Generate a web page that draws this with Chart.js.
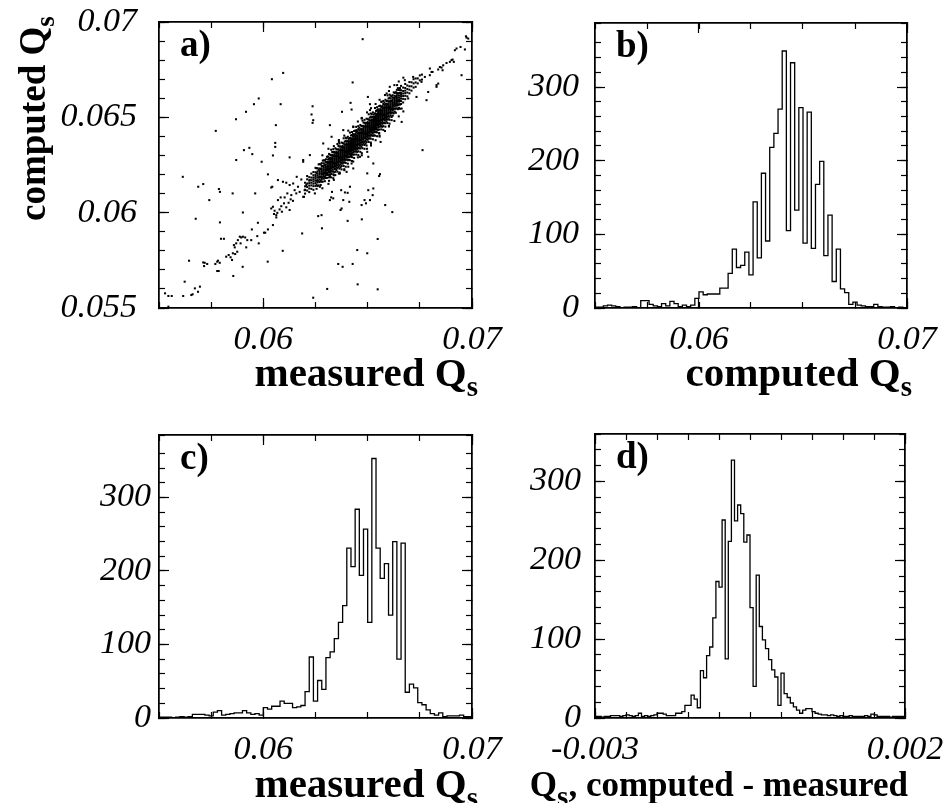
<!DOCTYPE html>
<html lang="en">
  <head>
    <meta charset="UTF-8" />
    <title>Qs computed vs measured</title>
    <script src="https://cdn.jsdelivr.net/npm/chart.js@4.4.1/dist/chart.umd.min.js"></script>
    <style>
      body { margin: 0; background: #fff; }
      #page { position: relative; width: 952px; height: 803px; overflow: hidden; background: #fff; }
      canvas { position: absolute; }
      .title {
        position: absolute;
        font: bold 41px "Liberation Serif", "Times New Roman", serif;
        line-height: 1;
        white-space: nowrap;
        color: #000;
      }
      .title span { font-size: 29px; position: relative; top: 10px; }
      .vtitle { font-size: 37px; transform: rotate(-90deg); transform-origin: 0 0; }
      .vtitle span { font-size: 27px; top: 9px; }
    </style>
  </head>
  <body>
    <div id="page">
      <canvas id="chartA" width="520" height="400" style="left:0;top:0"></canvas>
      <canvas id="chartB" width="472" height="400" style="left:480px;top:0"></canvas>
      <canvas id="chartC" width="520" height="403" style="left:0;top:400px"></canvas>
      <canvas id="chartD" width="472" height="403" style="left:480px;top:400px"></canvas>

      <div class="title vtitle" style="left:14px;top:221px">computed Q<span>s</span></div>
      <div class="title" style="right:474px;top:352px">measured Q<span>s</span></div>
      <div class="title" style="right:40px;top:352px">computed Q<span>s</span></div>
      <div class="title" style="right:474px;top:763px">measured Q<span>s</span></div>
      <div class="title" style="right:44px;top:767px;font-size:35px">Q<span>s</span>, computed - measured</div>
    </div>

    <script>
      // tick labels
      const qsTickValues = [0.06, 0.07];
      const qsTickLabels = ["0.06", "0.07"];
      const aYTickValues = [0.055, 0.06, 0.065, 0.07];
      const aYTickLabels = ["0.055", "0.06", "0.065", "0.07"];
      const countTickValues = [0, 100, 200, 300];
      const countTickLabels = ["0", "100", "200", "300"];
      const diffTickValues = [-0.003, 0.002];
      const diffTickLabels = ["-0.003", "0.002"];

      // b) computed Qs, 75 bins of 0.0002 from 0.055
      const computedCounts = [
        1, 1, 3, 4, 3, 2, 0, 1, 1, 2, 0, 10, 10, 5, 3, 2, 6, 3, 9, 6, 2, 4, 2, 4, 13,
        22, 18, 19, 19, 19, 27, 27, 47, 80, 55, 58, 76, 45, 144, 68, 183, 91, 218, 237, 270,
        349, 105, 333, 133, 272, 88, 266, 81, 168, 199, 71, 126, 36, 80, 26, 21, 5, 8, 4, 3,
        2, 2, 5, 2, 1, 1, 2, 0, 1, 0
      ];

      // c) measured Qs, 75 bins of 0.0002 from 0.055
      const measuredCounts = [
        1, 1, 1, 0, 1, 2, 1, 2, 5, 5, 5, 4, 3, 8, 10, 4, 5, 6, 7, 7, 10, 7, 5, 6,
        4, 14, 12, 16, 16, 23, 20, 20, 14, 15, 17, 36, 83, 23, 51, 39, 82, 90, 108, 130, 153,
        231, 206, 284, 194, 257, 130, 353, 231, 190, 210, 140, 240, 80, 238, 35, 46, 41, 21, 18,
        11, 6, 4, 7, 2, 3, 3, 3, 4, 2, 2
      ];

      // d) computed - measured, 100 bins of 0.00005 from -0.003
      const diffCounts = [
        2, 2, 1, 2, 2, 3, 3, 3, 2, 3, 4, 3, 2, 3, 6, 2, 3, 2, 3, 4,
        6, 6, 5, 3, 3, 3, 6, 6, 8, 16, 16, 29, 24, 13, 60, 51, 79, 90, 127, 173,
        166, 251, 75, 224, 327, 250, 270, 259, 223, 232, 140, 40, 181, 116, 99, 88, 74, 61, 52, 16,
        57, 31, 26, 19, 14, 10, 6, 10, 12, 12, 8, 6, 5, 4, 4, 3, 4, 3, 2, 3,
        2, 2, 3, 2, 2, 2, 2, 3, 2, 5, 4, 2, 2, 2, 2, 1, 2, 2, 2, 2
      ];

      // a) dense core: measured Qs columns and the computed Qs found in each
      const coreMeasuredQs = [
        0.0620, 0.0621, 0.0622, 0.0623, 0.0624, 0.0625, 0.0626, 0.0627, 0.0628, 0.0629,
        0.0630, 0.0631, 0.0632, 0.0633, 0.0634, 0.0635, 0.0636, 0.0637, 0.0638, 0.0639,
        0.0640, 0.0641, 0.0642, 0.0643, 0.0644, 0.0645, 0.0646, 0.0647, 0.0648, 0.0649,
        0.0650, 0.0651, 0.0652, 0.0653, 0.0654, 0.0655, 0.0656, 0.0657, 0.0658, 0.0659,
        0.0660, 0.0661, 0.0662, 0.0663, 0.0664, 0.0665, 0.0666, 0.0667, 0.0668, 0.0669,
        0.0670, 0.0671, 0.0672, 0.0673, 0.0674, 0.0675, 0.0676
      ];
      const coreComputedQs = [
        [0.061, 0.0612, 0.06138, 0.06157],
        [0.06116, 0.06135, 0.06153, 0.06175],
        [0.06108, 0.06127, 0.06142, 0.06155, 0.06168, 0.06186],
        [0.06125, 0.06143, 0.06157, 0.0617, 0.06184, 0.06205],
        [0.0612, 0.06139, 0.06152, 0.06164, 0.06174, 0.06184, 0.06196, 0.06213],
        [0.0614, 0.06155, 0.06168, 0.06179, 0.06188, 0.06198, 0.06212, 0.06235],
        [0.0614, 0.06159, 0.06172, 0.06184, 0.06194, 0.06204, 0.06216, 0.06233],
        [0.0616, 0.06175, 0.06188, 0.06199, 0.06208, 0.06218, 0.06232, 0.06255],
        [0.06162, 0.06177, 0.06189, 0.06199, 0.06207, 0.06215, 0.06223, 0.06233, 0.06245, 0.0626],
        [0.06178, 0.06192, 0.06203, 0.06212, 0.0622, 0.06228, 0.06237, 0.06247, 0.06259, 0.06275],
        [0.06182, 0.06197, 0.06209, 0.06219, 0.06227, 0.06235, 0.06243, 0.06253, 0.06265, 0.0628],
        [0.06198, 0.06212, 0.06223, 0.06232, 0.0624, 0.06248, 0.06257, 0.06267, 0.06279, 0.06295],
        [0.06198, 0.06212, 0.06223, 0.06232, 0.0624, 0.06247, 0.06254, 0.06261, 0.06269, 0.06278, 0.06289, 0.06304],
        [0.06215, 0.06227, 0.06237, 0.06245, 0.06252, 0.06259, 0.06266, 0.06273, 0.06281, 0.06291, 0.06303, 0.06318],
        [0.06212, 0.06229, 0.0624, 0.0625, 0.06258, 0.06265, 0.06272, 0.06279, 0.06286, 0.06295, 0.06306, 0.06319],
        [0.06224, 0.06237, 0.06247, 0.06255, 0.06262, 0.06269, 0.06275, 0.06281, 0.06287, 0.06293, 0.063, 0.06308, 0.06318, 0.06332],
        [0.0624, 0.06252, 0.06261, 0.06269, 0.06276, 0.06282, 0.06288, 0.06294, 0.063, 0.06306, 0.06313, 0.06321, 0.06332, 0.0635],
        [0.06238, 0.06254, 0.06265, 0.06274, 0.06281, 0.06288, 0.06294, 0.063, 0.06305, 0.06311, 0.06318, 0.06326, 0.06335, 0.06347],
        [0.06257, 0.0627, 0.06279, 0.06287, 0.06294, 0.06301, 0.06307, 0.06313, 0.06319, 0.06325, 0.06332, 0.0634, 0.0635, 0.06365],
        [0.06264, 0.06277, 0.06287, 0.06295, 0.06302, 0.06309, 0.06315, 0.06321, 0.06327, 0.06333, 0.0634, 0.06348, 0.06358, 0.06372],
        [0.0628, 0.06292, 0.06301, 0.06309, 0.06316, 0.06322, 0.06328, 0.06334, 0.0634, 0.06346, 0.06353, 0.06361, 0.06372, 0.0639],
        [0.06278, 0.06294, 0.06305, 0.06314, 0.06321, 0.06328, 0.06334, 0.0634, 0.06345, 0.06351, 0.06358, 0.06366, 0.06375, 0.06387],
        [0.06297, 0.0631, 0.06319, 0.06327, 0.06334, 0.06341, 0.06347, 0.06353, 0.06359, 0.06365, 0.06372, 0.0638, 0.0639, 0.06405],
        [0.06304, 0.06317, 0.06327, 0.06335, 0.06342, 0.06349, 0.06355, 0.06361, 0.06367, 0.06373, 0.0638, 0.06388, 0.06398, 0.06412],
        [0.0632, 0.06332, 0.06341, 0.06349, 0.06356, 0.06362, 0.06368, 0.06374, 0.0638, 0.06386, 0.06393, 0.06401, 0.06412, 0.0643],
        [0.06318, 0.06334, 0.06345, 0.06354, 0.06361, 0.06368, 0.06374, 0.0638, 0.06385, 0.06391, 0.06398, 0.06406, 0.06415, 0.06427],
        [0.06338, 0.06351, 0.0636, 0.06368, 0.06375, 0.06382, 0.06388, 0.06394, 0.064, 0.06406, 0.06413, 0.06421, 0.06431, 0.06446],
        [0.06346, 0.06359, 0.06369, 0.06377, 0.06384, 0.06391, 0.06397, 0.06403, 0.06409, 0.06415, 0.06422, 0.0643, 0.0644, 0.06454],
        [0.06363, 0.06375, 0.06384, 0.06392, 0.06399, 0.06405, 0.06411, 0.06417, 0.06423, 0.06429, 0.06436, 0.06444, 0.06455, 0.06473],
        [0.06362, 0.06378, 0.06389, 0.06398, 0.06405, 0.06412, 0.06418, 0.06424, 0.06429, 0.06435, 0.06442, 0.0645, 0.06459, 0.06471],
        [0.06382, 0.06395, 0.06404, 0.06412, 0.06419, 0.06426, 0.06432, 0.06438, 0.06444, 0.0645, 0.06457, 0.06465, 0.06475, 0.0649],
        [0.0639, 0.06403, 0.06413, 0.06421, 0.06428, 0.06435, 0.06441, 0.06447, 0.06453, 0.06459, 0.06466, 0.06474, 0.06484, 0.06498],
        [0.06407, 0.06419, 0.06428, 0.06436, 0.06443, 0.06449, 0.06455, 0.06461, 0.06467, 0.06473, 0.0648, 0.06488, 0.06499, 0.06517],
        [0.06406, 0.06422, 0.06433, 0.06442, 0.06449, 0.06456, 0.06462, 0.06468, 0.06473, 0.06479, 0.06486, 0.06494, 0.06503, 0.06515],
        [0.06426, 0.06439, 0.06448, 0.06456, 0.06463, 0.0647, 0.06476, 0.06482, 0.06488, 0.06494, 0.06501, 0.06509, 0.06519, 0.06534],
        [0.06434, 0.06447, 0.06457, 0.06465, 0.06472, 0.06479, 0.06485, 0.06491, 0.06497, 0.06503, 0.0651, 0.06518, 0.06528, 0.06542],
        [0.06451, 0.06463, 0.06472, 0.0648, 0.06487, 0.06493, 0.06499, 0.06505, 0.06511, 0.06517, 0.06524, 0.06532, 0.06543, 0.06561],
        [0.0645, 0.06466, 0.06477, 0.06486, 0.06493, 0.065, 0.06506, 0.06512, 0.06517, 0.06523, 0.0653, 0.06538, 0.06547, 0.06559],
        [0.0647, 0.06483, 0.06492, 0.065, 0.06507, 0.06514, 0.0652, 0.06526, 0.06532, 0.06538, 0.06545, 0.06553, 0.06563, 0.06578],
        [0.06478, 0.06491, 0.06501, 0.06509, 0.06516, 0.06523, 0.06529, 0.06535, 0.06541, 0.06547, 0.06554, 0.06562, 0.06572, 0.06586],
        [0.06493, 0.06507, 0.06518, 0.06527, 0.06535, 0.06542, 0.06549, 0.06556, 0.06564, 0.06573, 0.06584, 0.06599],
        [0.06511, 0.06523, 0.06533, 0.06541, 0.06548, 0.06555, 0.06562, 0.06569, 0.06577, 0.06587, 0.06599, 0.06614],
        [0.06509, 0.06526, 0.06537, 0.06547, 0.06555, 0.06562, 0.06569, 0.06576, 0.06583, 0.06592, 0.06603, 0.06616],
        [0.0653, 0.06545, 0.06557, 0.06567, 0.06575, 0.06583, 0.06591, 0.06601, 0.06613, 0.06628],
        [0.06547, 0.06561, 0.06572, 0.06581, 0.06589, 0.06597, 0.06606, 0.06616, 0.06628, 0.06644],
        [0.0655, 0.06569, 0.06582, 0.06594, 0.06604, 0.06614, 0.06626, 0.06643],
        [0.0657, 0.06585, 0.06598, 0.06609, 0.06618, 0.06628, 0.06642, 0.06665],
        [0.06578, 0.06597, 0.06612, 0.06625, 0.06638, 0.06656],
        [0.06595, 0.06613, 0.06627, 0.0664, 0.06654, 0.06675],
        [0.0661, 0.0663, 0.06648, 0.06667],
        [0.06626, 0.06645, 0.06663, 0.06685],
        [0.0664, 0.06663, 0.06684],
        [0.06656, 0.06678, 0.067],
        [0.0666, 0.06683, 0.06704],
        [0.06678, 0.06704],
        [0.06694, 0.0672],
        [0.06698, 0.06724]
      ];

      // a) wider spread of the core, read between the columns above
      const coreWideMeasuredQs = [
        0.06255, 0.06265, 0.06275, 0.06285, 0.06295, 0.06305, 0.06315, 0.06325, 0.06335,
        0.06345, 0.06355, 0.06365, 0.06375, 0.06385, 0.06395, 0.06405, 0.06415, 0.06425,
        0.06435, 0.06445, 0.06455, 0.06465, 0.06475, 0.06485, 0.06495, 0.06505, 0.06515,
        0.06525, 0.06535, 0.06545, 0.06555, 0.06565, 0.06575, 0.06585, 0.06595, 0.06605,
        0.06615, 0.06625, 0.06635, 0.06645, 0.06655
      ];
      const coreWideComputedQs = [
        [0.06125, 0.06147, 0.06167, 0.06209, 0.06233],
        [0.06143, 0.06165, 0.06185, 0.06225, 0.06253],
        [0.06145, 0.06167, 0.06187, 0.06229, 0.06253],
        [0.06163, 0.06185, 0.06205, 0.06245, 0.06273],
        [0.06165, 0.06187, 0.06207, 0.06249, 0.06273],
        [0.06183, 0.06205, 0.06225, 0.06265, 0.06293],
        [0.06167, 0.06185, 0.06201, 0.06215, 0.06229, 0.06267, 0.06285, 0.06308],
        [0.06185, 0.06203, 0.06218, 0.06235, 0.06267, 0.06283, 0.06302, 0.0633],
        [0.06181, 0.06201, 0.06217, 0.06239, 0.06259, 0.06297, 0.06317, 0.06333],
        [0.06197, 0.06215, 0.06231, 0.06245, 0.06259, 0.06297, 0.06315, 0.06338],
        [0.06215, 0.06233, 0.06248, 0.06265, 0.06297, 0.06313, 0.06332, 0.0636],
        [0.06211, 0.06231, 0.06247, 0.06269, 0.06289, 0.06327, 0.06347, 0.06363],
        [0.06227, 0.06245, 0.06261, 0.06275, 0.06289, 0.06327, 0.06345, 0.06368],
        [0.06245, 0.06263, 0.06278, 0.06295, 0.06327, 0.06343, 0.06362, 0.0639],
        [0.06241, 0.06261, 0.06277, 0.06299, 0.06319, 0.06357, 0.06377, 0.06393],
        [0.06257, 0.06275, 0.06291, 0.06305, 0.06319, 0.06357, 0.06375, 0.06398],
        [0.06275, 0.06293, 0.06308, 0.06325, 0.06357, 0.06373, 0.06392, 0.0642],
        [0.06271, 0.06291, 0.06307, 0.06329, 0.06349, 0.06387, 0.06407, 0.06423],
        [0.06287, 0.06305, 0.06321, 0.06335, 0.06349, 0.06387, 0.06405, 0.06428],
        [0.06305, 0.06323, 0.06338, 0.06355, 0.06387, 0.06403, 0.06422, 0.0645],
        [0.06302, 0.06322, 0.06338, 0.0636, 0.0638, 0.06418, 0.06438, 0.06454],
        [0.06319, 0.06337, 0.06353, 0.06367, 0.06381, 0.06419, 0.06437, 0.0646],
        [0.06338, 0.06356, 0.06371, 0.06388, 0.0642, 0.06436, 0.06455, 0.06483],
        [0.06335, 0.06355, 0.06371, 0.06393, 0.06413, 0.06451, 0.06471, 0.06487],
        [0.06352, 0.0637, 0.06386, 0.064, 0.06414, 0.06452, 0.0647, 0.06493],
        [0.06371, 0.06389, 0.06404, 0.06421, 0.06453, 0.06469, 0.06488, 0.06516],
        [0.06368, 0.06388, 0.06404, 0.06426, 0.06446, 0.06484, 0.06504, 0.0652],
        [0.06385, 0.06403, 0.06419, 0.06433, 0.06447, 0.06485, 0.06503, 0.06526],
        [0.06404, 0.06422, 0.06437, 0.06454, 0.06486, 0.06502, 0.06521, 0.06549],
        [0.06401, 0.06421, 0.06437, 0.06459, 0.06479, 0.06517, 0.06537, 0.06553],
        [0.06418, 0.06436, 0.06452, 0.06466, 0.0648, 0.06518, 0.06536, 0.06559],
        [0.06437, 0.06455, 0.0647, 0.06487, 0.06519, 0.06535, 0.06554, 0.06582],
        [0.06434, 0.06454, 0.0647, 0.06492, 0.06512, 0.0655, 0.0657, 0.06586],
        [0.06451, 0.06469, 0.06485, 0.06499, 0.06513, 0.06551, 0.06569, 0.06592],
        [0.0647, 0.06488, 0.06503, 0.0652, 0.06552, 0.06568, 0.06587, 0.06615],
        [0.06467, 0.06487, 0.06503, 0.06525, 0.06545, 0.06583, 0.06603, 0.06619],
        [0.06502, 0.06524, 0.06544, 0.06586, 0.0661],
        [0.06521, 0.06543, 0.06563, 0.06603, 0.06631],
        [0.06524, 0.06546, 0.06566, 0.06608, 0.06632],
        [0.06543, 0.06565, 0.06585, 0.06625, 0.06653],
        [0.06545, 0.06567, 0.06587, 0.06629, 0.06653]
      ];

      // a) sparse band and halo around the core: [measured, computed]
      const bandQs = [
        [0.05687, 0.05585], [0.05655, 0.05568], [0.05719, 0.05737], [0.05731, 0.05731],
        [0.05716, 0.0572], [0.05779, 0.05743], [0.05791, 0.05737], [0.0577, 0.05731],
        [0.05783, 0.05748], [0.05779, 0.05694], [0.05786, 0.05694], [0.05822, 0.05769],
        [0.05834, 0.05778], [0.05843, 0.05766], [0.05854, 0.05787], [0.05865, 0.05783],
        [0.05875, 0.05795], [0.0585, 0.05752], [0.05859, 0.0583], [0.0587, 0.05839],
        [0.05887, 0.05874], [0.05894, 0.0587], [0.05902, 0.05874], [0.05913, 0.0587],
        [0.05878, 0.05856], [0.05923, 0.05856], [0.05863, 0.05818], [0.05891, 0.05839],
        [0.05918, 0.05818], [0.05945, 0.05912], [0.05971, 0.05877], [0.05978, 0.05839],
        [0.05942, 0.05856], [0.05974, 0.05947], [0.06003, 0.05895], [0.06009, 0.05895],
        [0.06022, 0.05912], [0.06046, 0.05935], [0.06062, 0.05975], [0.06051, 0.05993],
        [0.06038, 0.06022], [0.06046, 0.06031], [0.06054, 0.0601], [0.06067, 0.05999],
        [0.06078, 0.06017], [0.06086, 0.06034], [0.06099, 0.06049], [0.0611, 0.06028],
        [0.06089, 0.06005], [0.06062, 0.05987], [0.06121, 0.06052], [0.06131, 0.0607],
        [0.06142, 0.06062], [0.06126, 0.06014], [0.06102, 0.0608], [0.06083, 0.0608],
        [0.0607, 0.06066], [0.06115, 0.06101], [0.06038, 0.06132], [0.0607, 0.06171],
        [0.06094, 0.06162], [0.0611, 0.06157], [0.06126, 0.06145], [0.0615, 0.06118],
        [0.06166, 0.06136], [0.06158, 0.06101], [0.06174, 0.06109], [0.06198, 0.06118],
        [0.06206, 0.06145], [0.06222, 0.06171], [0.06182, 0.06174], [0.0621, 0.06192],
        [0.06195, 0.06083], [0.06134, 0.06092],
        [0.06606, 0.0666], [0.06641, 0.06669], [0.06678, 0.06695], [0.06718, 0.06712],
        [0.06774, 0.06712], [0.06798, 0.06721], [0.06806, 0.06738], [0.06758, 0.06686],
        [0.06734, 0.06607], [0.06694, 0.06599], [0.06663, 0.06546], [0.06615, 0.06485],
        [0.06555, 0.06415], [0.06562, 0.06371], [0.06498, 0.06319], [0.06463, 0.06293],
        [0.06423, 0.06258], [0.06399, 0.06214], [0.06367, 0.06206], [0.06319, 0.06188],
        [0.06271, 0.06136], [0.06247, 0.06101], [0.06191, 0.06083], [0.06383, 0.06433],
        [0.06327, 0.06398], [0.06287, 0.06363], [0.06223, 0.06302], [0.06191, 0.06267],
        [0.0616, 0.06188], [0.06143, 0.06153], [0.06511, 0.06433], [0.06543, 0.06459],
        [0.06447, 0.06433], [0.06527, 0.06258], [0.06498, 0.06206], [0.06431, 0.06232],
        [0.06415, 0.06136], [0.06391, 0.06106], [0.06335, 0.06075], [0.06503, 0.06293],
        [0.06654, 0.06651], [0.06591, 0.06625], [0.06567, 0.06581], [0.06511, 0.06538],
        [0.06471, 0.06494], [0.06606, 0.06555], [0.06838, 0.06677], [0.0679, 0.06633],
        [0.06283, 0.06128], [0.06283, 0.06301], [0.06312, 0.06151], [0.06312, 0.06335],
        [0.06338, 0.06172], [0.06338, 0.06349], [0.06338, 0.06196], [0.06362, 0.06205],
        [0.06362, 0.06381], [0.06362, 0.06371], [0.06388, 0.06228], [0.06388, 0.06404],
        [0.06388, 0.06223], [0.06407, 0.06241], [0.06407, 0.0643], [0.06431, 0.06268],
        [0.06431, 0.06449], [0.06431, 0.06452], [0.06453, 0.0629], [0.06453, 0.06478],
        [0.06472, 0.06312], [0.06472, 0.06497], [0.06472, 0.06301], [0.06497, 0.06335],
        [0.06497, 0.06526], [0.06516, 0.06352], [0.06516, 0.06548], [0.06516, 0.06361],
        [0.06538, 0.0638], [0.06538, 0.0657], [0.06557, 0.06399], [0.06557, 0.06592],
        [0.06557, 0.06404], [0.06583, 0.06428], [0.06583, 0.06617], [0.06602, 0.06452],
        [0.06602, 0.06638], [0.06602, 0.06455], [0.06628, 0.06481], [0.06628, 0.06669],
        [0.06649, 0.06505], [0.06649, 0.06688], [0.06671, 0.06531], [0.06671, 0.06708]
      ];

      // a) isolated points: [measured, computed]
      const outlierQs = [
        [0.06476, 0.0691], [0.06095, 0.06733], [0.06041, 0.067], [0.05978, 0.06599],
        [0.05955, 0.06569], [0.06083, 0.06569], [0.05917, 0.06529], [0.05869, 0.0649],
        [0.06428, 0.06683], [0.06236, 0.06558], [0.06418, 0.06576], [0.06377, 0.06529],
        [0.06501, 0.06607], [0.06231, 0.06515], [0.0606, 0.06459], [0.05772, 0.06429],
        [0.06057, 0.06366], [0.06057, 0.06345], [0.06046, 0.063], [0.05933, 0.0634],
        [0.05907, 0.06328], [0.05947, 0.06307], [0.0587, 0.06276], [0.05992, 0.06267],
        [0.05614, 0.06188], [0.05688, 0.06136], [0.05712, 0.0615], [0.05787, 0.06124],
        [0.05792, 0.06109], [0.05741, 0.06066], [0.05853, 0.06101], [0.05961, 0.06101],
        [0.05676, 0.05968], [0.05792, 0.05949], [0.05902, 0.06001], [0.05797, 0.05863],
        [0.05811, 0.05863], [0.05644, 0.05748], [0.05712, 0.05739], [0.05623, 0.05638],
        [0.05696, 0.05612], [0.05672, 0.05603], [0.05661, 0.05572], [0.05616, 0.05563],
        [0.05529, 0.05577], [0.05545, 0.05563], [0.05561, 0.05563], [0.05545, 0.05507],
        [0.06239, 0.05554], [0.06306, 0.056], [0.06452, 0.05624], [0.06548, 0.05598],
        [0.06359, 0.05731], [0.0638, 0.05716], [0.06428, 0.05731], [0.0645, 0.05804],
        [0.06498, 0.05787], [0.06093, 0.058], [0.06021, 0.05743], [0.05901, 0.05716],
        [0.05856, 0.05668], [0.06548, 0.05862], [0.06472, 0.05965], [0.06404, 0.05957],
        [0.06281, 0.05918], [0.06186, 0.05891], [0.06263, 0.05982], [0.0637, 0.06014],
        [0.06412, 0.06057], [0.06485, 0.06066], [0.06503, 0.06118], [0.06527, 0.06127],
        [0.06524, 0.06092], [0.06511, 0.06066], [0.06492, 0.06049], [0.06555, 0.06192],
        [0.06584, 0.0604], [0.06618, 0.06003], [0.06763, 0.06328], [0.0695, 0.06721],
        [0.06329, 0.06109], [0.06319, 0.06066], [0.06279, 0.05987], [0.06404, 0.06104],
        [0.06319, 0.06459], [0.06423, 0.06541], [0.06239, 0.06485], [0.06191, 0.06276],
        [0.06126, 0.0629], [0.06022, 0.06201], [0.06043, 0.06136], [0.06325, 0.0608],
        [0.06373, 0.06118], [0.06974, 0.06918], [0.06926, 0.06861], [0.06945, 0.06869],
        [0.06918, 0.06852], [0.06894, 0.06791], [0.06907, 0.06803], [0.06862, 0.06773],
        [0.06854, 0.06761], [0.06838, 0.06751], [0.0683, 0.0666], [0.06782, 0.0659],
        [0.06511, 0.06569], [0.06236, 0.06471], [0.06663, 0.06476], [0.06559, 0.06202],
        [0.06383, 0.06066], [0.06375, 0.06022], [0.06471, 0.0604], [0.06798, 0.06756],
        [0.06811, 0.06738], [0.06846, 0.06764], [0.06859, 0.06747], [0.06878, 0.06785],
        [0.06902, 0.068], [0.06913, 0.06791], [0.06966, 0.06856], [0.06982, 0.06913],
        [0.06971, 0.06925], [0.0683, 0.06669]
      ];

      Chart.defaults.font.family = "Liberation Serif";
      Chart.defaults.color = "#000";

      const tickFont = { family: "Liberation Serif", style: "italic", size: 34 };

      // draws "a)", "b)" ... inside the frame
      const panelLabel = {
        id: "panelLabel",
        afterDraw(chart, args, opts) {
          const { ctx, chartArea } = chart;
          ctx.save();
          ctx.font = "bold 37px 'Liberation Serif'";
          ctx.fillStyle = "#000";
          ctx.textBaseline = "alphabetic";
          ctx.fillText(opts.text, chartArea.left + 21, chartArea.top + 34);
          ctx.restore();
        },
      };

      function labelFor(values, texts) {
        return (v) => {
          const i = values.findIndex((t) => Math.abs(t - v) < 1e-9);
          return i < 0 ? "" : texts[i];
        };
      }

      // one edge of the ROOT-like frame: ticks point inwards
      function axis(pos, min, max, step, len, weight, size, majors, ticks) {
        const horiz = pos === "bottom" || pos === "top";
        const opts = {
          type: "linear",
          position: pos,
          min: min,
          max: max,
          weight: weight,
          afterFit: (s) => {
            if (horiz) s.height = size;
            else s.width = size;
            // the frame is placed by layout.padding only
            s.paddingTop = 0;
            s.paddingBottom = 0;
            s.paddingLeft = 0;
            s.paddingRight = 0;
          },
          border: { display: true, color: "#000", width: 1.5 },
          grid: {
            drawOnChartArea: false,
            drawTicks: true,
            tickLength: -len,
            tickColor: "#000",
            tickWidth: 1.2,
          },
          ticks: Object.assign(
            { stepSize: step, autoSkip: false, maxRotation: 0, minRotation: 0 },
            ticks || { display: false }
          ),
        };
        if (majors) {
          opts.afterBuildTicks = (s) => {
            s.ticks = majors.map((v) => ({ value: v }));
          };
        }
        return opts;
      }

      function makeScales(p) {
        return {
          x: axis("bottom", p.xMin, p.xMax, p.xMinor, 10, 1, p.bottomH, p.xValues, {
            font: tickFont,
            color: "#000",
            padding: 22,
            callback: labelFor(p.xValues, p.xLabels),
          }),
          xMinor: axis("bottom", p.xMin, p.xMax, p.xMinor, 6, 0, 0),
          xTop: axis("top", p.xMin, p.xMax, p.xMinor, 10, 0, 0, p.xValues),
          xTopMinor: axis("top", p.xMin, p.xMax, p.xMinor, 6, 0, 0),
          y: axis("left", p.yMin, p.yMax, p.yMinor, 10, 1, p.leftW, p.yValues, {
            font: tickFont,
            color: "#000",
            padding: p.yPad,
            callback: labelFor(p.yValues, p.yLabels),
          }),
          yMinor: axis("left", p.yMin, p.yMax, p.yMinor, 6, 0, 0),
          yRight: axis("right", p.yMin, p.yMax, p.yMinor, 10, 0, 0, p.yValues),
          yRightMinor: axis("right", p.yMin, p.yMax, p.yMinor, 6, 0, 0),
        };
      }

      function histPoints(lo, width, counts) {
        const pts = counts.map((c, i) => ({ x: lo + i * width, y: c }));
        pts.push({ x: lo + counts.length * width, y: counts[counts.length - 1] });
        return pts;
      }

      function baseOptions(label, pad, scales) {
        return {
          responsive: false,
          animation: false,
          events: [],
          layout: { padding: pad },
          plugins: {
            legend: { display: false },
            tooltip: { enabled: false },
            panelLabel: { text: label },
          },
          scales: scales,
        };
      }

      // a) scatter
      const scatterData = [];
      coreMeasuredQs.forEach((m, i) => {
        coreComputedQs[i].forEach((c) => scatterData.push({ x: m, y: c }));
      });
      coreWideMeasuredQs.forEach((m, i) => {
        coreWideComputedQs[i].forEach((c) => scatterData.push({ x: m, y: c }));
      });
      bandQs.concat(outlierQs).forEach(([m, c]) => scatterData.push({ x: m, y: c }));

      new Chart(document.getElementById("chartA"), {
        type: "scatter",
        data: {
          datasets: [
            {
              data: scatterData,
              pointStyle: "rect",
              pointRadius: 1.45,
              pointBorderWidth: 0,
              backgroundColor: "#000",
            },
          ],
        },
        options: baseOptions(
          "a)",
          { top: 22, right: 48, bottom: 0, left: 0 },
          makeScales({
            xMin: 0.055, xMax: 0.07, xMinor: 0.0025,
            xValues: qsTickValues, xLabels: qsTickLabels,
            yMin: 0.055, yMax: 0.07, yMinor: 0.001,
            yValues: aYTickValues, yLabels: aYTickLabels,
            leftW: 159, bottomH: 92, yPad: 32,
          })
        ),
        plugins: [panelLabel],
      });

      function histChart(id, label, pad, counts, lo, width, p) {
        return new Chart(document.getElementById(id), {
          type: "line",
          data: {
            datasets: [
              {
                data: histPoints(lo, width, counts),
                stepped: "before",
                borderColor: "#000",
                borderWidth: 1.3,
                pointRadius: 0,
                fill: false,
              },
            ],
          },
          options: baseOptions(label, pad, makeScales(p)),
          plugins: [panelLabel],
        });
      }

      // b) computed Qs
      histChart("chartB", "b)", { top: 23, right: 45, bottom: 0, left: 0 },
        computedCounts, 0.055, 0.0002, {
          xMin: 0.055, xMax: 0.07, xMinor: 0.0025,
          xValues: qsTickValues, xLabels: qsTickLabels,
          yMin: 0, yMax: 387, yMinor: 20,
          yValues: countTickValues, yLabels: countTickLabels,
          leftW: 115, bottomH: 92, yPad: 26,
        });

      // c) measured Qs
      histChart("chartC", "c)", { top: 35, right: 48, bottom: 0, left: 0 },
        measuredCounts, 0.055, 0.0002, {
          xMin: 0.055, xMax: 0.07, xMinor: 0.0025,
          xValues: qsTickValues, xLabels: qsTickLabels,
          yMin: 0, yMax: 385, yMinor: 20,
          yValues: countTickValues, yLabels: countTickLabels,
          leftW: 159, bottomH: 85, yPad: 18,
        });

      // d) computed - measured
      histChart("chartD", "d)", { top: 34, right: 47, bottom: 0, left: 0 },
        diffCounts, -0.003, 0.00005, {
          xMin: -0.003, xMax: 0.002, xMinor: 0.0005,
          xValues: diffTickValues, xLabels: diffTickLabels,
          yMin: 0, yMax: 360, yMinor: 20,
          yValues: countTickValues, yLabels: countTickLabels,
          leftW: 115, bottomH: 85, yPad: 24,
        });
    </script>
  </body>
</html>
